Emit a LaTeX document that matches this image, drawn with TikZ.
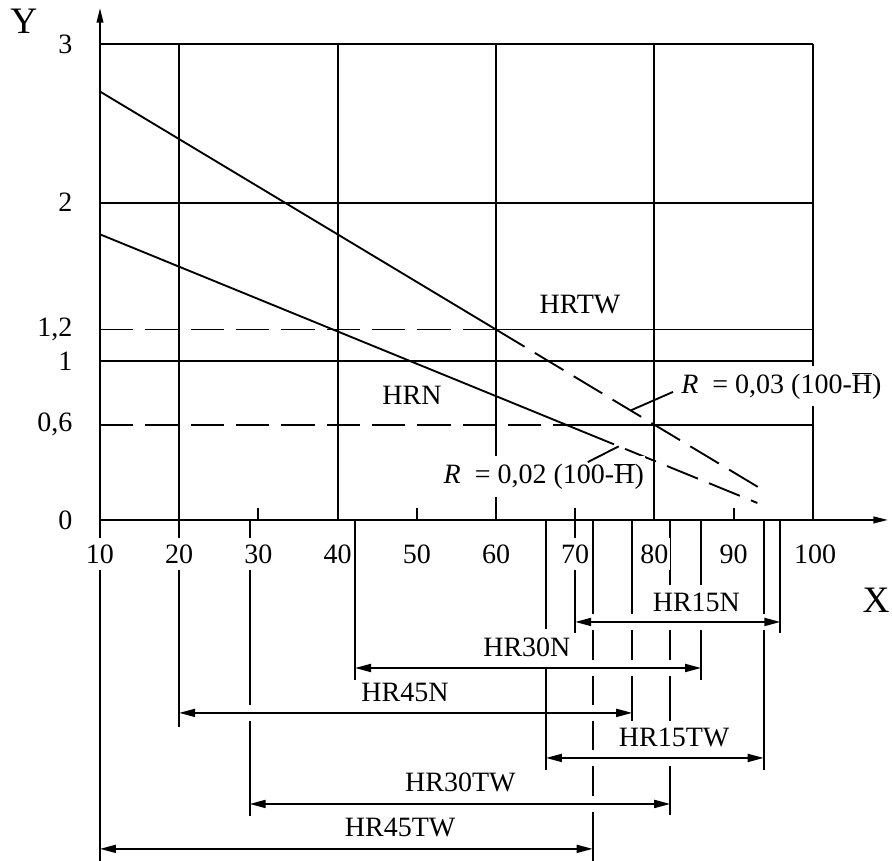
\documentclass[tikz,border=0pt]{standalone}
\usepackage{fontspec}
\setmainfont{Liberation Serif}
\usetikzlibrary{arrows.meta}

\tikzset{
  plain/.style={line width=1.4pt},
  dashline/.style={line width=1.4pt, dash pattern=on 25pt off 9pt},
  axisarrow/.style={line width=1.4pt, -{Triangle[length=11pt,width=5pt]}},
  dimarrow/.style={line width=1.4pt,
    {Triangle[length=12pt,width=6pt]}-{Triangle[length=12pt,width=6pt]},
    preaction={draw=white, -, line width=12pt, shorten <=6pt, shorten >=6pt}},
  txt/.style={font=\fontsize{21}{25}\selectfont, inner sep=1pt},
  numlbl/.style={txt, fill=white, inner ysep=5pt},
  dimlbl/.style={txt, fill=white, inner ysep=6pt},
}

\begin{document}
\begin{tikzpicture}[x=5.94pt, y=119pt]
  \useasboundingbox (-2.626,-2.149) rectangle (110,3.277);

  % grid
  \foreach \r in {1,2,3}
    \draw[plain] (10,\r) -- (100,\r);
  \foreach \h in {20,40,...,100}
    \draw[plain] (\h,0) -- (\h,3);
  \draw[dashline] (10,1.2) -- (60,1.2);
  \draw[plain] (60,1.2) -- (100,1.2);
  \draw[dashline] (10,0.6) -- (69,0.6);
  \draw[plain] (69,0.6) -- (100,0.6);

  % axes
  \draw[axisarrow] (10,-2.149) -- (10,3.226);
  \draw[axisarrow] (10,0) -- (109.5,0);
  \foreach \h in {30,50,70,90}
    \draw[plain] (\h,0) -- (\h,0.076);

  % the two lines
  \coordinate (tw0) at (10,2.7);
  \coordinate (tw1) at (60,1.2);
  \coordinate (tw2) at (94,0.18);
  \draw[plain] (tw0) -- (tw1);
  \draw[dashline] (tw1) -- (tw2);
  \coordinate (n0) at (10,1.8);
  \coordinate (n1) at (71,0.556);
  \coordinate (n2) at (93,0.107);
  \draw[plain] (n0) -- (n1);
  \draw[dashline] (n1) -- (n2);

  % extension lines
  \foreach \h/\r in {20/-1.304, 28.9/-1.865, 42.2/-1.008, 66.3/-0.933,
                     70/-0.712, 72.2/-2.149, 77.2/-1.279, 82/-1.859,
                     85.9/-1.008, 93.8/-1.575, 95.9/-0.712}
    \draw[plain] (\h,0) -- (\h,\r);

  % ranges
  \draw[dimarrow] (70,-0.643) -- (95.9,-0.643);
  \draw[dimarrow] (42.2,-0.933) -- (85.9,-0.933);
  \draw[dimarrow] (20,-1.216) -- (77.2,-1.216);
  \draw[dimarrow] (66.3,-1.5) -- (93.8,-1.5);
  \draw[dimarrow] (28.9,-1.79) -- (82,-1.79);
  \draw[dimarrow] (10,-2.073) -- (72.2,-2.073);
  \draw[plain] (66.3,-0.933) -- (66.3,-1.575);

  \node[dimlbl] (hr15n) at (85.3,-0.517) {HR15N};
  \node[dimlbl] (hr30n) at (63.9,-0.8) {HR30N};
  \node[dimlbl] (hr45n) at (48.5,-1.09) {HR45N};
  \node[dimlbl] (hr15tw) at (82.5,-1.374) {HR15TW};
  \node[dimlbl] (hr30tw) at (55.5,-1.657) {HR30TW};
  \node[dimlbl] (hr45tw) at (47.9,-1.941) {HR45TW};

  % scale numbers
  \foreach \h in {10,20,...,90}
    \node[numlbl] (x\h) at (\h,-0.214) {\h};
  \node[numlbl] (x100) at (100.3,-0.214) {100};
  \node[txt, anchor=east] (y0) at (6.72,0) {0};
  \node[txt, anchor=east] (y06) at (6.72,0.6) {0,6};
  \node[txt, anchor=east] (y1) at (6.72,1) {1};
  \node[txt, anchor=east] (y12) at (6.72,1.2) {1,2};
  \node[txt, anchor=east] (y2) at (6.72,2) {2};
  \node[txt, anchor=east] (y3) at (6.72,3) {3};
  \node[font=\fontsize{28}{32}\selectfont] (ylbl) at (0.4,3.144) {Y};
  \node[font=\fontsize{28}{32}\selectfont] (xlbl) at (108,-0.504) {X};

  % names of the lines
  \node[txt] (hrtw) at (70.6,1.355) {HRTW};
  \node[txt] (hrn) at (49.4,0.788) {HRN};
  \node[txt, fill=white, inner ysep=5pt, anchor=west] (eqn) at (53.2,0.274)
    {\textit{R}~~= 0,02 (100-$\overline{\mbox{H}}$)};
  \node[txt, fill=white, inner ysep=5pt, anchor=west] (eqtw) at (83.2,0.844)
    {\textit{R}~~= 0,03 (100-$\overline{\mbox{H}}$)};
  \coordinate (ptw) at (77,0.69);
  \coordinate (ltw) at (82.35,0.807);
  \coordinate (pn) at (75.5,0.464);
  \coordinate (ln) at (71.6,0.365);
  \draw[plain] (ltw) -- (ptw);
  \draw[plain] (ln) -- (pn);
\end{tikzpicture}
\end{document}
